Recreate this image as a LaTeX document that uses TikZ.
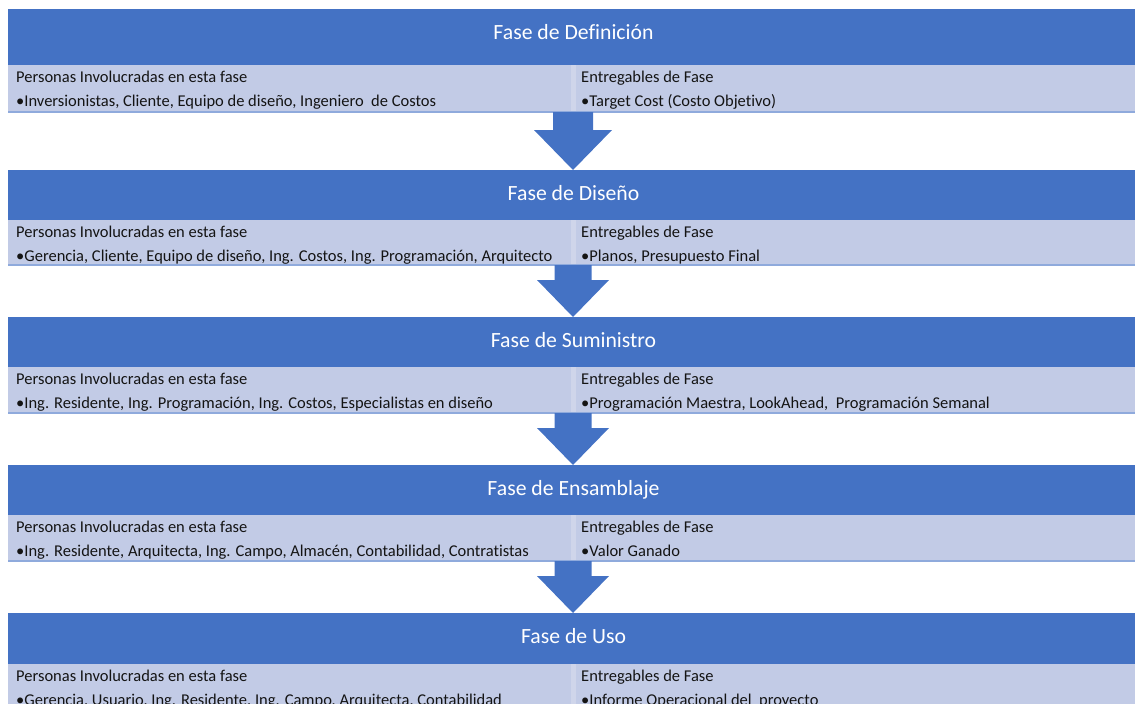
\documentclass[tikz,border=0pt]{standalone}
\usepackage{fontspec}
\setmainfont{Carlito}[Ligatures=NoCommon]
\usetikzlibrary{calc}

\definecolor{hdrblue}{RGB}{68,114,196}
\definecolor{bandblue}{RGB}{194,203,230}
\definecolor{seamblue}{RGB}{207,213,234}
\definecolor{ruleblue}{RGB}{143,170,220}
\definecolor{bodytext}{RGB}{20,20,20}

\begin{document}
\begin{tikzpicture}[x=1pt,y=-1pt,
  hdrbox/.style={fill=hdrblue,draw=none,inner sep=0pt,outer sep=0pt,anchor=north west,minimum width=1140pt},
  bandbox/.style={fill=bandblue,draw=none,inner sep=0pt,outer sep=0pt,anchor=north west,minimum width=1140pt},
  seambox/.style={fill=seamblue,draw=none,inner sep=0pt,outer sep=0pt,anchor=north,minimum width=5pt},
  titletext/.style={text=white,font=\fontsize{21.7}{26}\selectfont,anchor=base,inner sep=0pt},
  bodyline/.style={text=bodytext,font=\fontsize{16.5}{20}\selectfont,anchor=base west,inner sep=0pt},
  phasearrow/.style={fill=hdrblue,draw=none}
]
\useasboundingbox (0,0) rectangle (1135,704);
\clip (0,0) rectangle (1135,704);

% phase blocks: number / header top / header height / band height / title baseline / title / people / deliverables
\foreach \i/\top/\hh/\bh/\tb/\ttl/\ppl/\dlv in {
  1/9/56/47/39/{Fase de Definición}/{•Inversionistas, Cliente, Equipo de diseño, Ingeniero\ \ de Costos}/{•Target Cost (Costo Objetivo)},
  2/170/50/45/200/{Fase de Diseño}/{•Gerencia, Cliente, Equipo de diseño, Ing. Costos, Ing. Programación, Arquitecto}/{•Planos, Presupuesto Final},
  3/317/50/46/347/{Fase de Suministro}/{•Ing. Residente, Ing. Programación, Ing. Costos, Especialistas en diseño}/{•Programación Maestra, LookAhead,\ \ Programación Semanal},
  4/465/50/46/495/{Fase de Ensamblaje}/{•Ing. Residente, Arquitecta, Ing. Campo, Almacén, Contabilidad, Contratistas}/{•Valor Ganado},
  5/613/51/60/643/{Fase de Uso}/{•Gerencia, Usuario, Ing. Residente, Ing. Campo, Arquitecta, Contabilidad}/{•Informe Operacional del\ \ proyecto}}
{
  \node[hdrbox,minimum height=\hh pt] (h\i) at (8,\top) {};
  \node[bandbox,minimum height=\bh pt] (b\i) at (8,\top+\hh) {};
  \node[seambox,minimum height=\bh pt] (sm\i) at (573,\top+\hh) {};
  \draw[ruleblue,line width=1.2pt] (b\i.south west) -- (b\i.south east);
  \node[titletext] (t\i) at (573.5,\tb) {\ttl};
  \node[bodyline] (pa\i) at (16,\top+\hh+17) {Personas Involucradas en esta fase};
  \node[bodyline] (pb\i) at (16,\top+\hh+41) {\ppl};
  \node[bodyline] (da\i) at (581,\top+\hh+17) {Entregables de Fase};
  \node[bodyline] (db\i) at (581,\top+\hh+41) {\dlv};
}

% block arrows between consecutive phases: from / to / shaft half width / head half width / head length
\foreach \a/\b/\sw/\hw/\hl in {1/2/20/39/40, 2/3/18.5/36/37, 3/4/18.5/36/37, 4/5/18.5/36/37}
{
  \coordinate (from\a) at (sm\a.south);
  \coordinate (tip\a) at (h\b.north -| sm\a.south);
  \fill[phasearrow] ($(from\a)+(-\sw,0)$) -- ($(from\a)+(\sw,0)$)
    -- ($(tip\a)+(\sw,-\hl)$) -- ($(tip\a)+(\hw,-\hl)$) -- (tip\a)
    -- ($(tip\a)+(-\hw,-\hl)$) -- ($(tip\a)+(-\sw,-\hl)$) -- cycle;
}
\end{tikzpicture}
\end{document}
